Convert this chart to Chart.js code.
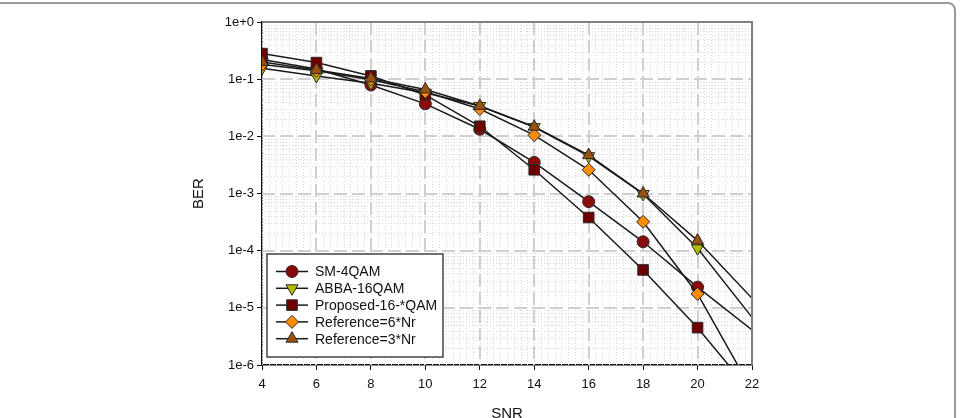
<!DOCTYPE html>
<html>
<head>
<meta charset="utf-8">
<script src="https://cdn.jsdelivr.net/npm/chart.js@4.4.1/dist/chart.umd.min.js"></script>
<style>
  html, body { margin: 0; padding: 0; background: #fff; overflow: hidden; }
  #wrap { position: relative; width: 960px; height: 418px; overflow: hidden; }
  #frame { position: absolute; left: -20px; top: 2px; width: 976px; height: 440px;
           border: 2px solid #9a9a9a; border-radius: 8px; box-sizing: border-box; }
  canvas { position: absolute; left: 0; top: 0; }
</style>
</head>
<body>
<div id="wrap">
  <div id="frame"></div>
  <canvas id="ber" width="960" height="430"></canvas>
</div>
<script>
const snr = [4, 6, 8, 10, 12, 14, 16, 18, 20, 22];
const berSM4QAM   = [0.22, 0.15, 0.079, 0.037, 0.0133, 0.0035, 7.2e-4, 1.43e-4, 2.3e-5, 4.1e-6];
const berABBA16   = [0.155, 0.114, 0.085, 0.058, 0.034, 0.0145, 0.0045, 9.8e-4, 1.1e-4, 6.8e-6];
const berProposed = [0.28, 0.195, 0.114, 0.053, 0.015, 0.0026, 3.8e-4, 4.6e-5, 4.5e-6, 3.2e-7];
const berRef6Nr   = [0.18, 0.14, 0.098, 0.06, 0.030, 0.0105, 0.0026, 3.2e-4, 1.75e-5, 3.6e-7];
const berRef3Nr   = [0.2, 0.145, 0.103, 0.066, 0.034, 0.0147, 0.0047, 1.0e-3, 1.5e-4, 1.47e-5];
const seriesNames = ["SM-4QAM", "ABBA-16QAM", "Proposed-16-*QAM", "Reference=6*Nr", "Reference=3*Nr"];
const xTicks = [4, 6, 8, 10, 12, 14, 16, 18, 20, 22];
const yDecades = [0, -1, -2, -3, -4, -5, -6];

const markers = [
  { style: "circle", radius: 6, rotation: 0, color: "#8b0a0a" },
  { style: "triangle", radius: 7, rotation: 180, color: "#b3bd00" },
  { style: "rect", radius: 7.5, rotation: 0, color: "#6e0000" },
  { style: "rectRot", radius: 6.5, rotation: 0, color: "#ff8c00" },
  { style: "triangle", radius: 7, rotation: 0, color: "#99520f" }
];
const allSeries = [berSM4QAM, berABBA16, berProposed, berRef6Nr, berRef3Nr];

// no marker at the last (x=22) point, the lines just run off the plot
// later series are drawn on top, like the original
const datasets = allSeries.map((vals, i) => ({
  label: seriesNames[i],
  order: allSeries.length - 1 - i,
  data: vals.map((v, k) => ({ x: snr[k], y: v })),
  borderColor: "#1a1a1a",
  borderWidth: 1.5,
  pointStyle: markers[i].style,
  pointRotation: markers[i].rotation,
  pointRadius: vals.map((v, k) => (snr[k] === 22 ? 0 : markers[i].radius)),
  pointHoverRadius: 0,
  pointBackgroundColor: markers[i].color,
  pointBorderColor: "#2a2a2a",
  pointBorderWidth: 1,
  tension: 0
}));

const gridPlugin = {
  id: "berGrid",
  beforeDatasetsDraw(chart) {
    const { ctx, chartArea: a, scales: { x, y } } = chart;
    ctx.save();
    ctx.beginPath();
    ctx.rect(a.left, a.top, a.right - a.left, a.bottom - a.top);
    ctx.clip();

    // minor grid, dotted
    ctx.beginPath();
    ctx.setLineDash([1, 2]);
    ctx.lineWidth = 1;
    ctx.strokeStyle = "#dadada";
    for (let v = 4; v <= 22; v += 0.25) {
      const px = Math.round(x.getPixelForValue(v)) + 0.5;
      ctx.moveTo(px, a.top); ctx.lineTo(px, a.bottom);
    }
    for (let e = -6; e < 0; e++) {
      for (let m = 2; m <= 9; m++) {
        const py = Math.round(y.getPixelForValue(m * Math.pow(10, e))) + 0.5;
        ctx.moveTo(a.left, py); ctx.lineTo(a.right, py);
      }
    }
    ctx.stroke();

    // major grid, dashed
    ctx.beginPath();
    ctx.setLineDash([13, 5]);
    ctx.lineWidth = 2;
    ctx.strokeStyle = "#cfcfcf";
    xTicks.slice(1, -1).forEach(v => {
      const px = Math.round(x.getPixelForValue(v));
      ctx.moveTo(px, a.top); ctx.lineTo(px, a.bottom);
    });
    yDecades.slice(1, -1).forEach(e => {
      const py = Math.round(y.getPixelForValue(Math.pow(10, e)));
      ctx.moveTo(a.left, py); ctx.lineTo(a.right, py);
    });
    ctx.stroke();
    ctx.restore();
  },
  afterDraw(chart) {
    const { ctx, chartArea: a } = chart;
    ctx.save();
    ctx.strokeStyle = "#808080";
    ctx.lineWidth = 2;
    ctx.beginPath();
    ctx.moveTo(a.left, a.top); ctx.lineTo(a.right, a.top); ctx.lineTo(a.right, a.bottom);
    ctx.stroke();
    ctx.restore();
  }
};

const legendPlugin = {
  id: "boxLegend",
  afterDatasetsDraw(chart) {
    const ctx = chart.ctx;
    const box = { left: 267, top: 254, right: 443, bottom: 357 };
    ctx.save();
    ctx.fillStyle = "#fff";
    ctx.fillRect(box.left, box.top, box.right - box.left, box.bottom - box.top);
    ctx.strokeStyle = "#444";
    ctx.lineWidth = 1.5;
    ctx.strokeRect(box.left, box.top, box.right - box.left, box.bottom - box.top);
    ctx.font = "14px 'Liberation Sans', Arial, sans-serif";
    ctx.textBaseline = "middle";
    chart.data.datasets.forEach((ds, i) => {
      const cy = 271.5 + i * 16.8;
      ctx.strokeStyle = "#1a1a1a";
      ctx.lineWidth = 1.5;
      ctx.beginPath();
      ctx.moveTo(276, cy); ctx.lineTo(308, cy);
      ctx.stroke();
      ctx.fillStyle = markers[i].color;
      ctx.strokeStyle = "#2a2a2a";
      ctx.lineWidth = 1;
      Chart.helpers.drawPoint(ctx, {
        pointStyle: markers[i].style,
        radius: markers[i].radius,
        rotation: markers[i].rotation,
        borderWidth: 1
      }, 292, cy);
      ctx.fillStyle = "#111";
      ctx.fillText(ds.label, 315, cy + 1);
    });
    ctx.restore();
  }
};

new Chart(document.getElementById("ber"), {
  type: "line",
  data: { datasets },
  plugins: [gridPlugin, legendPlugin],
  options: {
    responsive: false,
    animation: false,
    events: [],
    layout: { padding: { left: 190, right: 208, top: 22, bottom: 5 } },
    plugins: { legend: { display: false }, tooltip: { enabled: false } },
    scales: {
      x: {
        type: "linear",
        min: 4,
        max: 22,
        afterFit: s => { s.height = 60; },
        afterBuildTicks: s => { s.ticks = xTicks.map(v => ({ value: v })); },
        grid: { drawOnChartArea: false, tickLength: 5, tickColor: "#111", tickWidth: 1 },
        border: { color: "#111", width: 1.5 },
        ticks: {
          padding: 7,
          color: "#111",
          font: { family: "'Liberation Sans', Arial, sans-serif", size: 13 },
          maxRotation: 0
        },
        title: {
          display: true,
          text: "SNR",
          color: "#111",
          font: { family: "'Liberation Sans', Arial, sans-serif", size: 15 },
          padding: { top: 0, bottom: 2 }
        }
      },
      y: {
        type: "logarithmic",
        min: 1e-6,
        max: 1,
        afterFit: s => { s.width = 72; },
        afterBuildTicks: s => { s.ticks = yDecades.map(e => ({ value: Math.pow(10, e) })); },
        grid: { drawOnChartArea: false, tickLength: 5, tickColor: "#111", tickWidth: 1 },
        border: { color: "#111", width: 1.5 },
        ticks: {
          padding: 3,
          color: "#111",
          font: { family: "'Liberation Sans', Arial, sans-serif", size: 13 },
          callback: v => {
            const e = Math.round(Math.log10(v));
            return "1e" + (e >= 0 ? "+" + e : e);
          }
        },
        title: {
          display: true,
          text: "BER",
          color: "#111",
          font: { family: "'Liberation Sans', Arial, sans-serif", size: 15 },
          padding: { top: 0, bottom: 0 }
        }
      }
    }
  }
});
</script>
</body>
</html>
